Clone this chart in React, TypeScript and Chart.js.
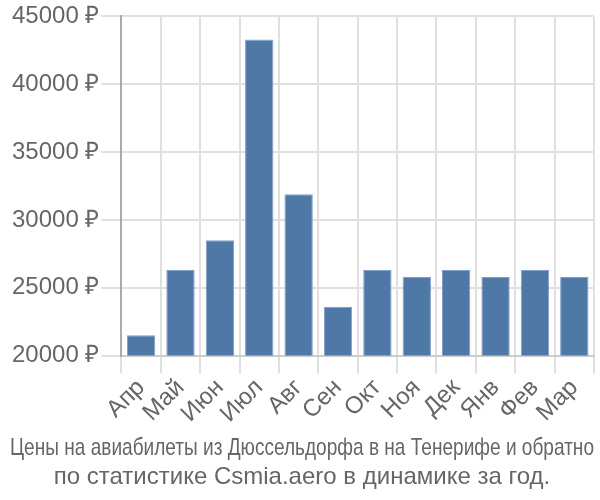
import React, { useEffect, useRef } from "react";
import Chart from "chart.js/auto";

const categories = ["Апр", "Май", "Июн", "Июл", "Авг", "Сен", "Окт", "Ноя", "Дек", "Янв", "Фев", "Мар"];
const prices = [21500, 26300, 28500, 43300, 31900, 23600, 26300, 25800, 26300, 25800, 26300, 25800];
const titleLines = [
  "Цены на авиабилеты из Дюссельдорфа в на Тенерифе и обратно",
  "по статистике Csmia.aero в динамике за год.",
];

const FAMILY = "'Liberation Sans', Arial, sans-serif";

export default function App() {
  const ref = useRef<HTMLCanvasElement | null>(null);
  useEffect(() => {
    document.body.style.margin = "0";
    const ctx = ref.current!.getContext("2d")!;
    const chart = new Chart(ctx, {
      type: "bar",
      data: {
        labels: categories,
        datasets: [
          {
            data: prices,
            backgroundColor: "#4e79a7",
            borderColor: "#7f9fc4",
            borderWidth: 1,
            barPercentage: 0.9,
            categoryPercentage: 0.8,
          },
        ],
      },
      options: {
        animation: false,
        responsive: false,
        devicePixelRatio: 1,
        layout: { padding: { left: 10, right: 6, top: 6, bottom: 0 } },
        plugins: {
          legend: { display: false },
          tooltip: { enabled: false },
          title: {
            display: true,
            position: "bottom",
            text: titleLines,
            color: "#666",
            font: { family: FAMILY, size: 24, weight: "normal", lineHeight: 1.2 },
            padding: { top: 0, bottom: 8 },
          },
        },
        scales: {
          x: {
            grid: { color: "#e0e0e0", lineWidth: 2, tickLength: 18, offset: true },
            border: { color: "#ccc", width: 2 },
            ticks: {
              color: "#666",
              font: { family: FAMILY, size: 24 },
              maxRotation: 45,
              minRotation: 45,
              autoSkip: false,
              padding: 0,
            },
            afterFit: (s: any) => {
              s.height = s.height + 6;
            },
          },
          y: {
            min: 20000,
            max: 45000,
            grid: { color: "#e0e0e0", lineWidth: 2, tickLength: 20 },
            border: { color: "#aaa", width: 2 },
            ticks: {
              stepSize: 5000,
              color: "#666",
              padding: 2,
              font: { family: FAMILY, size: 24 },
              callback: (v: any) => v + " ₽",
            },
          },
        },
      },
    });
    return () => chart.destroy();
  }, []);
  return (
    <div style={{ width: 600, height: 500 }}>
      <canvas ref={ref} width={600} height={500} />
    </div>
  );
}
